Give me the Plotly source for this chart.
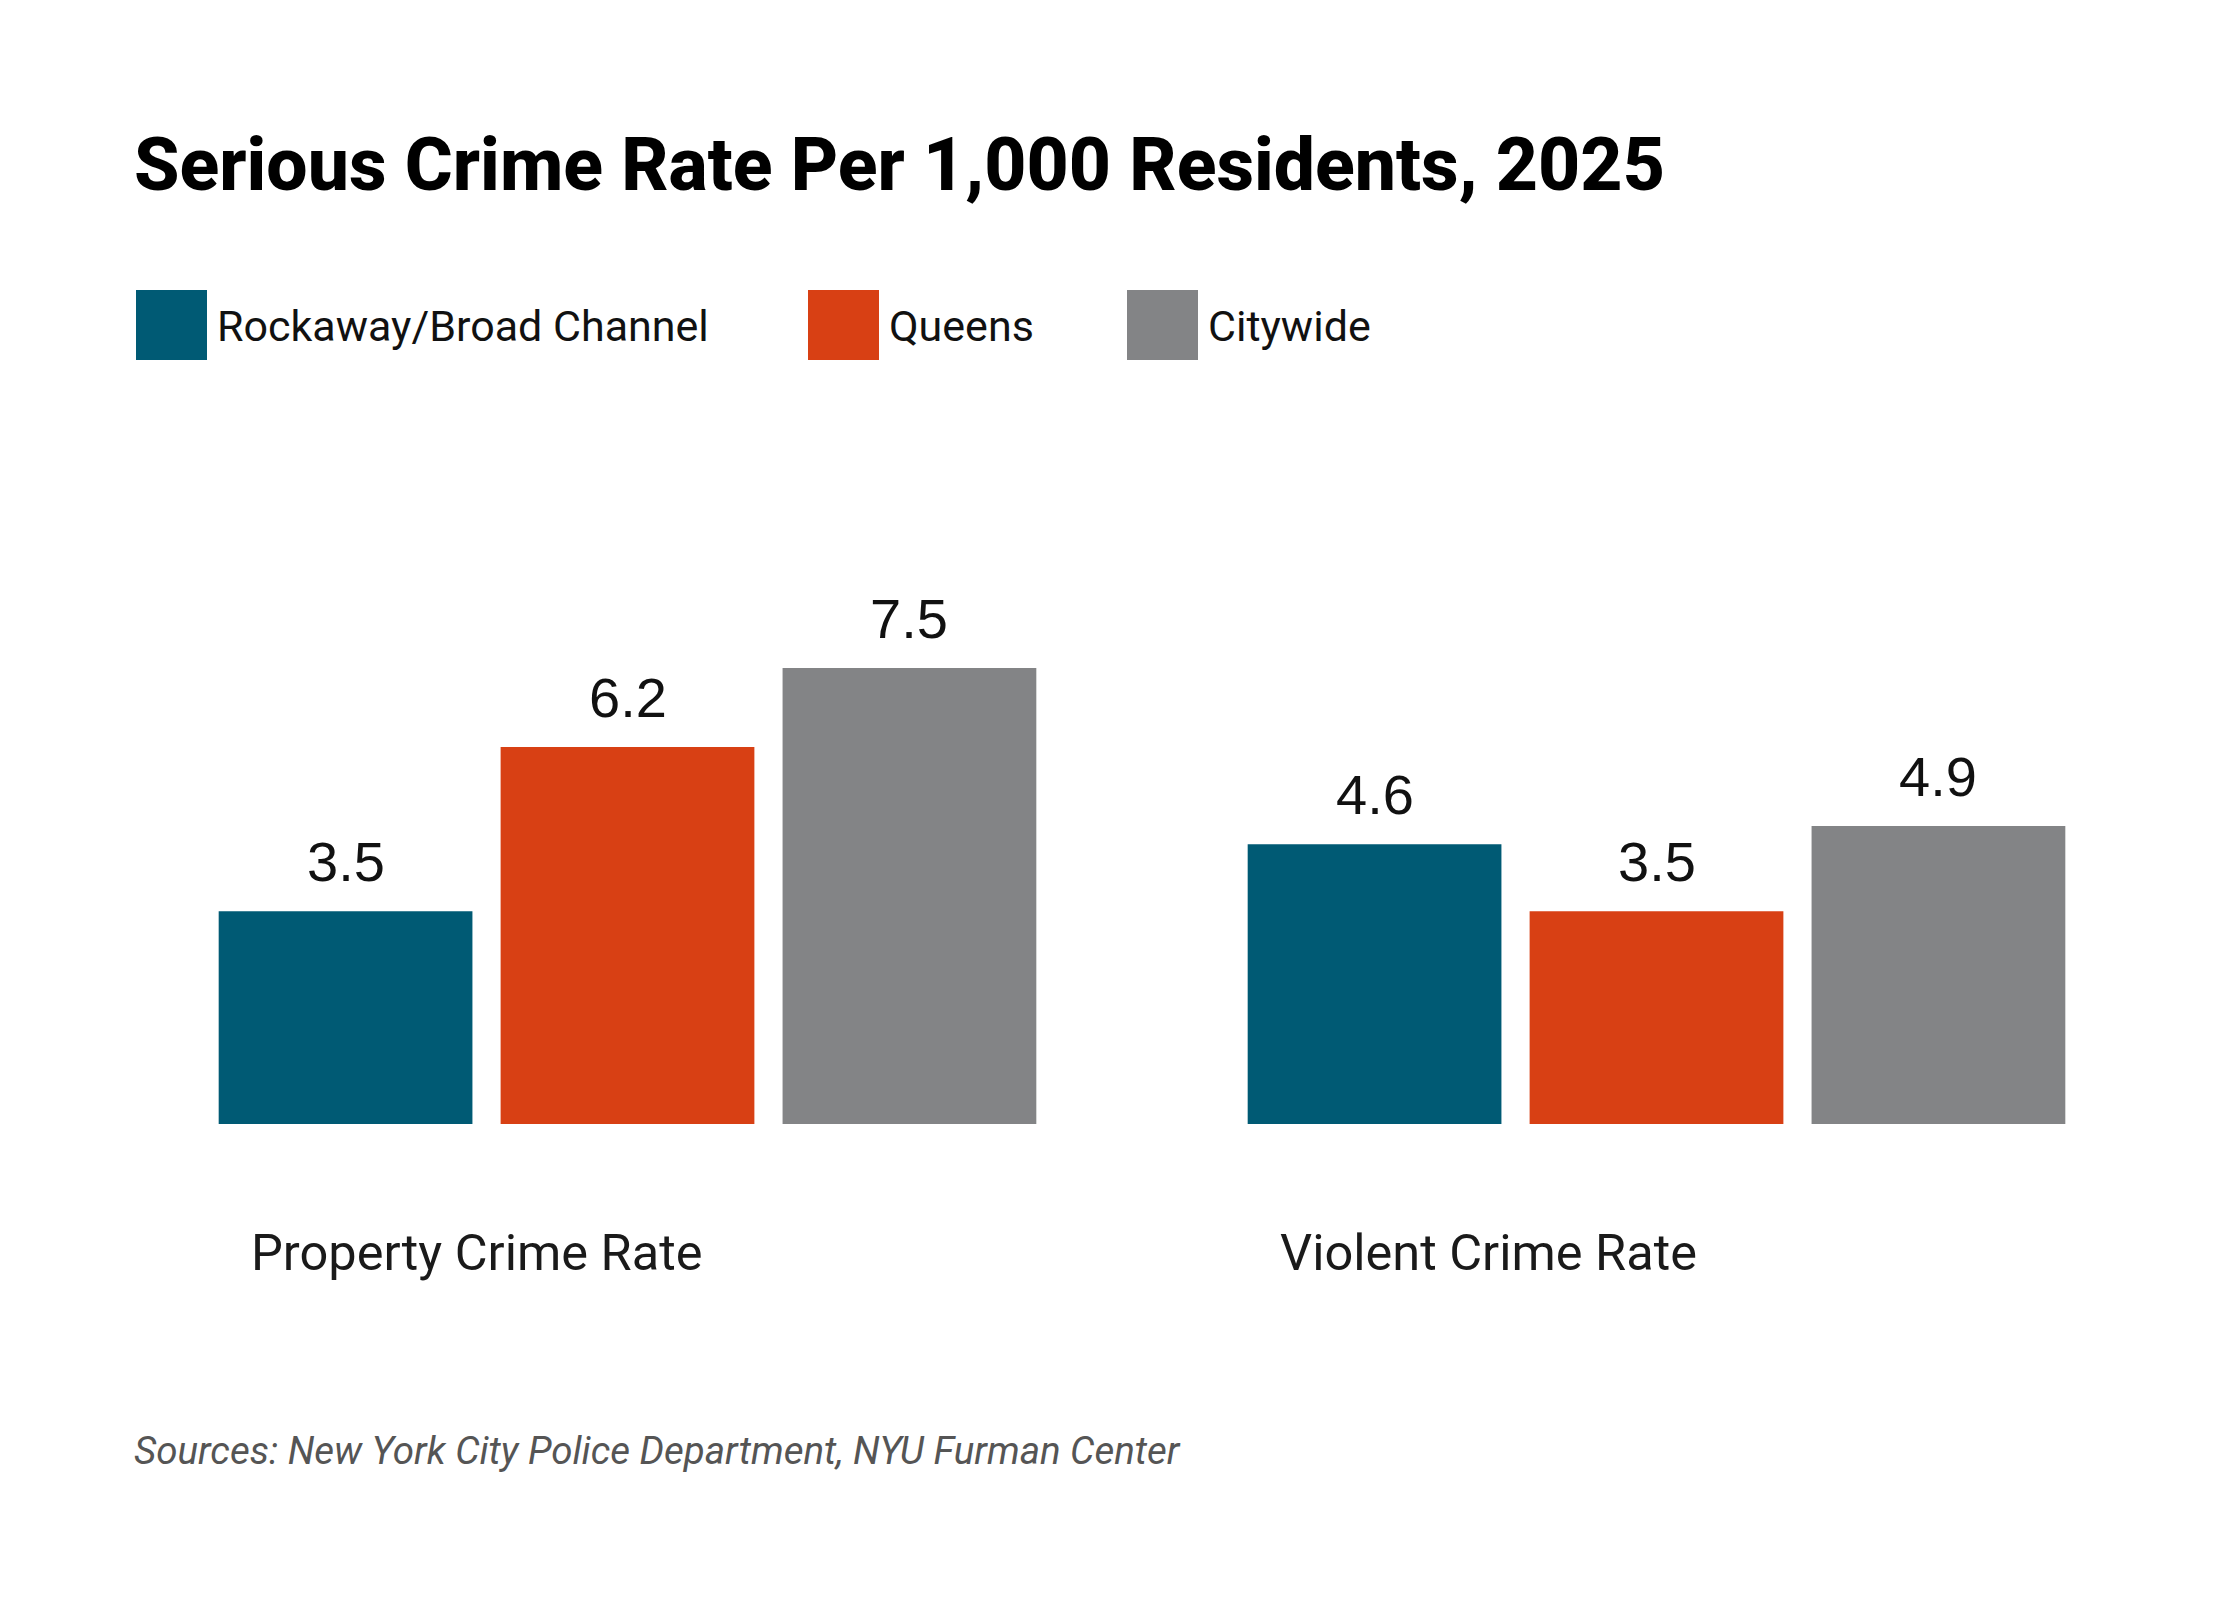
import plotly.graph_objects as go

# Данные
categories = ["Property Crime Rate", "Violent Crime Rate"]
series_names = ["Rockaway/Broad Channel", "Queens", "Citywide"]
series_values = [
    [3.5, 4.6],
    [6.2, 3.5],
    [7.5, 4.9],
]
series_colors = ["#005A74", "#D84014", "#838486"]

title_text = "Serious Crime Rate Per 1,000 Residents, 2025"
source_text = "Sources: New York City Police Department, NYU Furman Center"

# Размеры в пикселях (координаты фигуры)
W, H = 2240, 1600
margin = dict(l=105, r=77, t=508, b=484)
plot_w = W - margin["l"] - margin["r"]
plot_h = H - margin["t"] - margin["b"]
bargap = 0.178


def px_x(px):
    return (px - margin["l"]) / plot_w


def px_y(py):
    return (H - margin["b"] - py) / plot_h


fig = go.Figure()

for name, vals, color in zip(series_names, series_values, series_colors):
    fig.add_trace(go.Bar(
        x=categories, y=vals, name=name,
        marker=dict(color=color, line=dict(width=0)),
        showlegend=False,
        hoverinfo="x+y+name",
    ))

# Подписи значений над столбцами
slot_px = (1 - bargap) / len(series_names) * plot_w / len(categories)
for i, vals in enumerate(series_values):
    shift = (i - (len(series_names) - 1) / 2) * slot_px
    for cat, v in zip(categories, vals):
        fig.add_annotation(
            x=cat, y=v, xref="x", yref="y",
            text=f"{v:.1f}", showarrow=False,
            xshift=shift, yshift=16, yanchor="bottom",
            font=dict(family="Liberation Sans, Arial", size=56, color="#111111"),
        )

# Подписи категорий
for cat in categories:
    fig.add_annotation(
        x=cat, y=0, xref="x", yref="y",
        text=cat, showarrow=False,
        xshift=-379, yshift=-128, xanchor="left", yanchor="middle",
        font=dict(family="Roboto", size=50.5, color="#1a1a1a"),
    )

# Легенда вручную: квадраты и подписи
legend_x = [128, 800, 1119]
for name, color, lx in zip(series_names, series_colors, legend_x):
    fig.add_shape(
        type="rect", xref="paper", yref="paper",
        x0=px_x(lx), x1=px_x(lx + 71), y0=px_y(352), y1=px_y(282),
        fillcolor=color, line=dict(width=0),
    )
    fig.add_annotation(
        x=px_x(lx + 79), y=px_y(318), xref="paper", yref="paper",
        text=name, showarrow=False, xanchor="left", yanchor="middle",
        font=dict(family="Roboto", size=43, color="#111111"),
    )

# Заголовок
fig.add_annotation(
    x=px_x(124), y=px_y(157), xref="paper", yref="paper",
    text=title_text, showarrow=False, xanchor="left", yanchor="middle",
    font=dict(family="Roboto", size=73.3, color="#000000", weight=800),
)

# Источник
fig.add_annotation(
    x=px_x(124), y=px_y(1442), xref="paper", yref="paper",
    text=f"<i>{source_text}</i>", showarrow=False, xanchor="left", yanchor="middle",
    font=dict(family="Roboto", size=38.5, color="#555555"),
)

fig.update_layout(
    width=W, height=H,
    margin=margin,
    paper_bgcolor="white",
    plot_bgcolor="white",
    barmode="group",
    bargap=bargap,
    bargroupgap=0.1,
    xaxis=dict(
        type="category", range=[-0.5, 1.5],
        showticklabels=False, showgrid=False, zeroline=False, showline=False,
    ),
    yaxis=dict(
        range=[0, 10], visible=False, showgrid=False, zeroline=False,
    ),
)

fig.write_html("out.html")
